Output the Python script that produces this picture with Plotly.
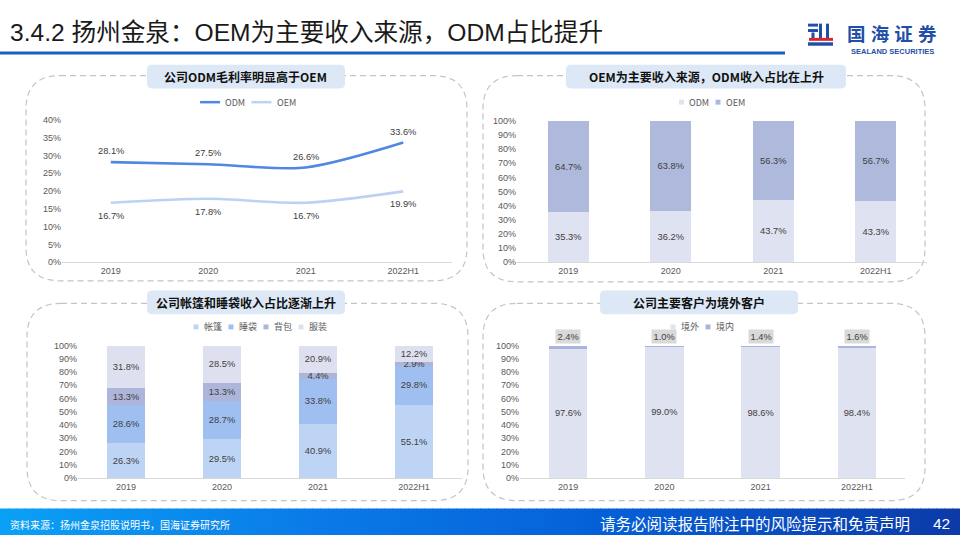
import plotly.graph_objects as go

W, H = 960, 540

# ---------------- data ----------------
years = ["2019", "2020", "2021", "2022H1"]
odm_margin = [28.1, 27.5, 26.6, 33.6]
oem_margin = [16.7, 17.8, 16.7, 19.9]
odm_share = [35.3, 36.2, 43.7, 43.3]
oem_share = [64.7, 63.8, 56.3, 56.7]
tent = [26.3, 29.5, 40.9, 55.1]
sleeping_bag = [28.6, 28.7, 33.8, 29.8]
backpack = [13.3, 13.3, 4.4, 2.9]
apparel = [31.8, 28.5, 20.9, 12.2]
overseas = [97.6, 99.0, 98.6, 98.4]
domestic = [2.4, 1.0, 1.4, 1.6]

slide_title = "3.4.2 扬州金泉：OEM为主要收入来源，ODM占比提升"
panel_titles = ["公司ODM毛利率明显高于OEM", "OEM为主要收入来源，ODM收入占比在上升",
                "公司帐篷和睡袋收入占比逐渐上升", "公司主要客户为境外客户"]
source_text = "资料来源：扬州金泉招股说明书，国海证券研究所"
disclaimer = "请务必阅读报告附注中的风险提示和免责声明"
page_no = "42"
brand_cn = "国 海 证 券"
brand_en = "SEALAND SECURITIES"

FONT = "Liberation Sans, Arial, Noto Sans CJK SC, sans-serif"
CJK = "Noto Sans CJK SC, Liberation Sans, sans-serif"
TXT = "#404040"
TICK = "#595959"


def px(x):
    return x / W


def py(y):
    return 1 - y / H


fig = go.Figure()
annotations = []
shapes = []

# ---------------- panel 1: line chart ----------------
line_series = [("ODM", odm_margin, "#4f87e2", 11), ("OEM", oem_margin, "#bcd2f4", -13)]
for name, vals, col, _ in line_series:
    fig.add_trace(go.Scatter(x=years, y=vals, mode="lines", name=name,
                             line=dict(color=col, width=2.6, shape="spline", smoothing=0.8),
                             xaxis="x", yaxis="y", showlegend=False))
for name, vals, col, shift in line_series:
    for i, v in enumerate(vals):
        annotations.append(dict(x=i, y=v, xref="x", yref="y", text=f"{v:.1f}%", showarrow=False,
                                yshift=shift, xanchor="center", yanchor="middle",
                                font=dict(size=9.3, color=TXT, family=FONT)))

# ---------------- panel 2: ODM/OEM share ----------------
share_series = [("ODM", odm_share, "#dfe2f1"), ("OEM", oem_share, "#aeb9dc")]
for name, vals, col in share_series:
    fig.add_trace(go.Bar(x=years, y=vals, name=name, marker=dict(color=col, line=dict(width=0)),
                         width=0.4, texttemplate="%{y:.1f}%", textposition="inside",
                         insidetextanchor="middle", textfont=dict(size=9.3, color=TXT, family=FONT),
                         xaxis="x2", yaxis="y2", showlegend=False))

# ---------------- panel 3: product mix ----------------
mix_series = [("帐篷", tent, "#bed4f4"), ("睡袋", sleeping_bag, "#9ebff0"),
              ("背包", backpack, "#aeb5da"), ("服装", apparel, "#dfe0ef")]
for name, vals, col in mix_series:
    fig.add_trace(go.Bar(x=years, y=vals, name=name, marker=dict(color=col, line=dict(width=0)),
                         width=0.4, texttemplate="%{y:.1f}%", textposition="inside",
                         insidetextanchor="middle", textfont=dict(size=9.3, color=TXT, family=FONT),
                         xaxis="x3", yaxis="y3", showlegend=False))

# ---------------- panel 4: customers ----------------
cust_series = [("境外", overseas, "#dfe2f1"), ("境内", domestic, "#aab4dc")]
fig.add_trace(go.Bar(x=years, y=overseas, name="境外", marker=dict(color="#dfe2f1", line=dict(width=0)),
                     width=0.4, texttemplate="%{y:.1f}%", textposition="inside",
                     insidetextanchor="middle", textfont=dict(size=9.3, color=TXT, family=FONT),
                     xaxis="x4", yaxis="y4", showlegend=False))
fig.add_trace(go.Bar(x=years, y=domestic, name="境内", marker=dict(color="#aab4dc", line=dict(width=0)),
                     width=0.4, textposition="none", xaxis="x4", yaxis="y4", showlegend=False))

for i, (o, d) in enumerate(zip(overseas, domestic)):
    annotations.append(dict(x=i, y=o + d, xref="x4", yref="y4", text=f"{d:.1f}%",
                            showarrow=False, yanchor="bottom", yshift=2,
                            bgcolor="#d9d9d9", borderpad=1.5,
                            font=dict(size=9.3, color=TXT, family=FONT)))

# ---------------- axes ----------------
def xax(domain):
    return dict(domain=[px(domain[0]), px(domain[1])], type="category", range=[-0.5, 3.5],
                showline=True, linecolor="#d9d9d9", linewidth=1, showgrid=False, zeroline=False,
                ticks="", tickfont=dict(size=9, color=TICK, family=FONT), fixedrange=True)


def yax(domain, rng, dtick, anchor):
    return dict(domain=[py(domain[1]), py(domain[0])], range=rng, dtick=dtick, ticksuffix="%",
                showgrid=False, zeroline=False, showline=False, ticks="",
                tickfont=dict(size=9, color=TICK, family=FONT), fixedrange=True, anchor=anchor)


fig.update_layout(
    width=W, height=H, margin=dict(l=0, r=0, t=0, b=0),
    paper_bgcolor="white", plot_bgcolor="rgba(0,0,0,0)",
    barmode="stack", showlegend=False,
    uniformtext=dict(minsize=9.3, mode="show"),
    xaxis=dict(xax([62, 452]), anchor="y"),
    yaxis=yax([117, 262], [0, 40], 5, "x"),
    xaxis2=dict(xax([517, 927]), anchor="y2"),
    yaxis2=yax([118, 262], [0, 100], 10, "x2"),
    xaxis3=dict(xax([78, 462]), anchor="y3"),
    yaxis3=yax([347, 482], [0, 100], 10, "x3"),
    xaxis4=dict(xax([520, 905]), anchor="y4"),
    yaxis4=yax([347, 482], [0, 100], 10, "x4"),
)


# ---------------- compact legends (drawn from series names/colours) ----------------
def text_w(s, size=9):
    return sum(size if ord(c) > 255 else size * 0.72 for c in s)


def legend(items, cx, cy, kind):
    sym = 20 if kind == "line" else 5
    gap_in, gap_out = 3, 9
    total = sum(sym + gap_in + text_w(n) for n, *_ in items) + gap_out * (len(items) - 1)
    x = cx - total / 2
    for n, _, col, *rest in items:
        if kind == "line":
            shapes.append(dict(type="line", xref="paper", yref="paper", x0=px(x), x1=px(x + sym),
                               y0=py(cy), y1=py(cy), line=dict(color=col, width=2.5)))
        else:
            shapes.append(dict(type="rect", xref="paper", yref="paper", x0=px(x), x1=px(x + sym),
                               y0=py(cy + 2.5), y1=py(cy - 2.5), fillcolor=col, line=dict(width=0)))
        x += sym + gap_in
        annotations.append(dict(x=px(x), y=py(cy), xref="paper", yref="paper", text=n,
                                showarrow=False, xanchor="left", yanchor="middle",
                                font=dict(size=9, color=TICK, family=CJK)))
        x += text_w(n) + gap_out


legend(line_series, 247, 99, "line")
legend(share_series, 711, 99, "box")
legend(mix_series, 259, 328, "box")
legend(cust_series, 701, 328, "box")


# ---------------- decorations ----------------
def rrect(x0, y0, x1, y1, r):
    pts = [
        f"M{px(x0 + r)},{py(y0)}", f"L{px(x1 - r)},{py(y0)}",
        f"Q{px(x1)},{py(y0)} {px(x1)},{py(y0 + r)}", f"L{px(x1)},{py(y1 - r)}",
        f"Q{px(x1)},{py(y1)} {px(x1 - r)},{py(y1)}", f"L{px(x0 + r)},{py(y1)}",
        f"Q{px(x0)},{py(y1)} {px(x0)},{py(y1 - r)}", f"L{px(x0)},{py(y0 + r)}",
        f"Q{px(x0)},{py(y0)} {px(x0 + r)},{py(y0)}", "Z",
    ]
    return " ".join(pts)


boxes = [(26, 72, 467, 281), (483, 72, 925, 282), (27, 304, 468, 505), (483, 304, 925, 505)]
for b in boxes:
    shapes.append(dict(type="path", xref="paper", yref="paper", path=rrect(*b, 34),
                       line=dict(color="#c4c4c4", width=1.2, dash="6px,4px"), layer="below"))

tboxes = [(147, 61, 345, 85), (566, 61, 846, 85), (147, 291, 345, 315), (600, 291, 798, 315)]
for (x0, y0, x1, y1), t in zip(tboxes, panel_titles):
    shapes.append(dict(type="path", xref="paper", yref="paper", path=rrect(x0, y0, x1, y1, 5),
                       fillcolor="#dde8f6", line=dict(width=0), layer="below"))
    annotations.append(dict(x=px((x0 + x1) / 2), y=py((y0 + y1) / 2), xref="paper", yref="paper",
                            text=f"<b>{t}</b>", showarrow=False, xanchor="center", yanchor="middle",
                            font=dict(size=12, color="#111111", family=CJK)))

# title underline
shapes.append(dict(type="line", xref="paper", yref="paper", x0=0, x1=px(785), y0=py(49), y1=py(49),
                   line=dict(color="#1560c6", width=3)))

# footer gradient
stops = [(0, (10, 160, 245)), (320, (10, 122, 232)), (600, (5, 96, 216)), (960, (12, 58, 168))]


def grad(x):
    for (xa, ca), (xb, cb) in zip(stops[:-1], stops[1:]):
        if xa <= x <= xb:
            t = (x - xa) / (xb - xa)
            return "rgb(%d,%d,%d)" % tuple(round(a + (b - a) * t) for a, b in zip(ca, cb))
    return "rgb(%d,%d,%d)" % stops[-1][1]


step = 8
for x in range(0, W, step):
    shapes.append(dict(type="rect", xref="paper", yref="paper", x0=px(x), x1=px(min(W, x + step + 0.8)),
                       y0=py(540), y1=py(513), fillcolor=grad(x + step / 2), line=dict(width=0),
                       layer="below"))

# logo icon
BLUE = "#1f4fa6"
RED = "#d8262d"
for (x0, y0, x1, y1, c) in [(808, 19, 818, 22, BLUE), (808, 24.5, 818, 27.5, BLUE),
                            (811.5, 28, 814.5, 34, BLUE), (819, 19, 822, 34, BLUE),
                            (826, 19, 829, 34, BLUE), (809, 33.5, 833, 36.5, RED),
                            (808, 38, 833, 41.5, BLUE)]:
    shapes.append(dict(type="rect", xref="paper", yref="paper", x0=px(x0), x1=px(x1),
                       y0=py(y1), y1=py(y0), fillcolor=c, line=dict(width=0)))

annotations += [
    dict(x=px(8), y=py(28), xref="paper", yref="paper", text=slide_title, showarrow=False,
         xanchor="left", yanchor="middle", font=dict(size=24.6, color="#1a1a1a", family=FONT)),
    dict(x=px(892), y=py(30), xref="paper", yref="paper", text=f"<b>{brand_cn}</b>", showarrow=False,
         xanchor="center", yanchor="middle", font=dict(size=18.5, color=BLUE, family=FONT)),
    dict(x=px(892), y=py(47.5), xref="paper", yref="paper", text=f"<b>{brand_en}</b>",
         showarrow=False, xanchor="center", yanchor="middle",
         font=dict(size=7.5, color=BLUE, family=FONT)),
    dict(x=px(8), y=py(529), xref="paper", yref="paper", text=source_text, showarrow=False,
         xanchor="left", yanchor="middle", font=dict(size=10, color="white", family=CJK)),
    dict(x=px(912), y=py(528), xref="paper", yref="paper", text=disclaimer, showarrow=False,
         xanchor="right", yanchor="middle", font=dict(size=15.5, color="white", family=CJK)),
    dict(x=px(952), y=py(528), xref="paper", yref="paper", text=page_no, showarrow=False,
         xanchor="right", yanchor="middle", font=dict(size=15.5, color="white", family=FONT)),
]

fig.update_layout(shapes=shapes, annotations=annotations)

fig.write_html("out.html", config=dict(displayModeBar=False, staticPlot=True),
               post_script="document.body.style.margin='0';document.body.style.overflow='hidden';")
